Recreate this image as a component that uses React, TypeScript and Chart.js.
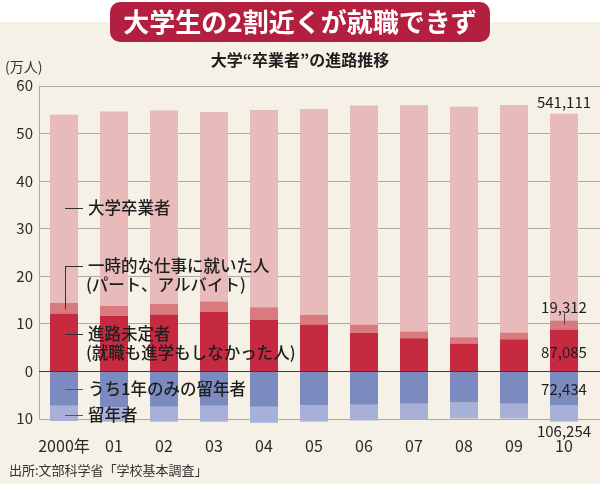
import React, { useEffect, useRef } from 'react';
import { Chart, registerables } from 'chart.js';

Chart.register(...registerables);

// ---- data (unit: 万人) ----
const years = ['2000年', '01', '02', '03', '04', '05', '06', '07', '08', '09', '10'];
const graduates = [53.87, 54.55, 54.77, 54.49, 54.89, 55.1, 55.82, 55.91, 55.57, 55.95, 54.11];
const temporaryJob = [2.2, 2.1, 2.2, 2.2, 2.6, 2.0, 1.8, 1.4, 1.3, 1.4, 1.93];
const undecided = [12.1, 11.6, 11.9, 12.4, 10.8, 9.8, 8.0, 6.9, 5.8, 6.7, 8.71];
const repeatOneYear = [7.3, 7.6, 7.5, 7.3, 7.5, 7.2, 7.1, 6.9, 6.6, 6.9, 7.24];
const repeatTotal = [10.5, 10.7, 10.7, 10.7, 10.9, 10.6, 10.4, 10.2, 10.0, 10.0, 10.63];
const yTicks = [-10, 0, 10, 20, 30, 40, 50, 60];
const valueLabels = ['541,111', '19,312', '87,085', '72,434', '106,254'];

const TITLE = '大学生の2割近くが就職できず';
const SUBTITLE = '大学“卒業者”の進路推移';
const UNIT = '(万人)';
const SOURCE = '出所:文部科学省「学校基本調査」';

const FONT = '"Noto Sans CJK JP", "Noto Sans", sans-serif';

const COLORS = {
  pink: '#e8baba',
  lightRed: '#d97a7e',
  red: '#c52a40',
  darkBlue: '#7c8bbf',
  lightBlue: '#a8b0d8',
  grid: '#aca99f',
  text: '#1e1e1e',
  bg: '#f5f1e6',
  titleBox: '#b3203f',
};

const pinkRest = graduates.map((g, i) => +(g - undecided[i] - temporaryJob[i]).toFixed(3));
const repeatRest = repeatTotal.map((t, i) => -(+(t - repeatOneYear[i]).toFixed(3)));
const repeatOneNeg = repeatOneYear.map((v) => -v);

const decorPlugin = {
  id: 'decor',
  beforeDraw(chart: any) {
    const { ctx, width, height } = chart;
    ctx.save();
    ctx.fillStyle = '#ffffff';
    ctx.fillRect(0, 0, width, height);
    ctx.fillStyle = COLORS.bg;
    ctx.fillRect(0, 22, width, height - 22);
    // title box
    ctx.fillStyle = COLORS.titleBox;
    ctx.beginPath();
    (ctx as any).roundRect(110, 2, 380, 40, 10);
    ctx.fill();
    ctx.fillStyle = '#ffffff';
    ctx.font = `bold 26px ${FONT}`;
    ctx.textAlign = 'center';
    ctx.textBaseline = 'middle';
    ctx.fillText(TITLE, 300, 22);
    // subtitle
    ctx.fillStyle = COLORS.text;
    ctx.font = `bold 16px ${FONT}`;
    ctx.fillText(SUBTITLE, 300, 60);
    // unit
    ctx.font = `14px ${FONT}`;
    ctx.textAlign = 'left';
    ctx.fillStyle = '#333';
    ctx.fillText(UNIT, 5, 67);
    // source
    ctx.font = `13px ${FONT}`;
    ctx.fillText(SOURCE, 9, 470);
    ctx.restore();
  },
  beforeDatasetsDraw(chart: any) {
    const { ctx, chartArea, width } = chart;
    const y = chart.scales.y;
    ctx.save();
    ctx.strokeStyle = COLORS.grid;
    ctx.lineWidth = 1;
    yTicks.forEach((v) => {
      if (v === 0) return;
      const py = Math.round(y.getPixelForValue(v)) + 0.5;
      ctx.beginPath();
      ctx.moveTo(chartArea.left, py);
      ctx.lineTo(width, py);
      ctx.stroke();
    });
    const lx = Math.round(chartArea.left) + 0.5;
    ctx.beginPath();
    ctx.moveTo(lx, y.getPixelForValue(60));
    ctx.lineTo(lx, y.getPixelForValue(-10));
    ctx.stroke();
    ctx.restore();
  },
  afterDatasetsDraw(chart: any) {
    const { ctx, chartArea, width } = chart;
    const y = chart.scales.y;
    const x = chart.scales.x;
    ctx.save();
    // zero line
    const zy = Math.round(y.getPixelForValue(0)) + 0.5;
    ctx.strokeStyle = '#3a3a3a';
    ctx.lineWidth = 1.2;
    ctx.beginPath();
    ctx.moveTo(chartArea.left, zy);
    ctx.lineTo(width, zy);
    ctx.stroke();

    // annotations
    const l0 = chartArea.left + 26;
    const l1 = chartArea.left + 44;
    const tx = chartArea.left + 49;
    const line = (color: string, yv: number) => {
      const py = Math.round(y.getPixelForValue(yv)) + 0.5;
      ctx.strokeStyle = color;
      ctx.lineWidth = 1;
      ctx.beginPath();
      ctx.moveTo(l0, py);
      ctx.lineTo(l1, py);
      ctx.stroke();
    };
    ctx.font = `500 16.5px ${FONT}`;
    ctx.fillStyle = COLORS.text;
    ctx.textAlign = 'left';
    ctx.textBaseline = 'middle';

    line('#333', 34.3);
    ctx.fillText('大学卒業者', tx, y.getPixelForValue(34.3));

    line('#333', 22.1);
    ctx.beginPath();
    ctx.moveTo(l0 + 0.5, y.getPixelForValue(22.1));
    ctx.lineTo(l0 + 0.5, y.getPixelForValue(13.0));
    ctx.stroke();
    ctx.fillText('一時的な仕事に就いた人', tx, y.getPixelForValue(22.1));
    ctx.fillText('(パート、アルバイト)', tx - 2, y.getPixelForValue(18.1));

    line('#333', 7.8);
    ctx.fillText('進路未定者', tx, y.getPixelForValue(7.8));
    ctx.fillText('(就職も進学もしなかった人)', tx - 2, y.getPixelForValue(3.9));

    line('#4a5587', -3.8);
    ctx.fillText('うち1年のみの留年者', tx, y.getPixelForValue(-3.8));
    line('#4a5587', -9.2);
    ctx.fillText('留年者', tx, y.getPixelForValue(-9.2));

    // value labels for last year
    const last = years.length - 1;
    const cx = x.getPixelForValue(last);
    ctx.textAlign = 'center';
    ctx.font = `15px ${FONT}`;
    ctx.fillStyle = COLORS.text;
    const topPink = y.getPixelForValue(graduates[last]);
    ctx.fillText(valueLabels[0], cx, topPink - 11);
    const topTemp = y.getPixelForValue(undecided[last] + temporaryJob[last]);
    ctx.fillText(valueLabels[1], cx, topTemp - 13);
    ctx.strokeStyle = '#444';
    ctx.lineWidth = 1;
    ctx.beginPath();
    ctx.moveTo(Math.round(cx) + 0.5, topTemp - 7);
    ctx.lineTo(Math.round(cx) + 0.5, topTemp + 4);
    ctx.stroke();
    const redMid = (y.getPixelForValue(undecided[last]) + y.getPixelForValue(0)) / 2;
    ctx.fillText(valueLabels[2], cx, redMid + 2);
    const blueMid = (y.getPixelForValue(-repeatOneYear[last]) + y.getPixelForValue(0)) / 2;
    ctx.fillText(valueLabels[3], cx, blueMid + 1);
    ctx.fillText(valueLabels[4], cx, y.getPixelForValue(-repeatTotal[last]) + 10);
    ctx.restore();
  },
};

export default function App() {
  const ref = useRef<HTMLCanvasElement | null>(null);
  useEffect(() => {
    if (!ref.current) return;
    const chart = new Chart(ref.current, {
      type: 'bar',
      data: {
        labels: years,
        datasets: [
          { label: '進路未定者', data: undecided, backgroundColor: COLORS.red },
          { label: '一時的な仕事に就いた人', data: temporaryJob, backgroundColor: COLORS.lightRed },
          { label: '大学卒業者', data: pinkRest, backgroundColor: COLORS.pink },
          { label: 'うち1年のみの留年者', data: repeatOneNeg, backgroundColor: COLORS.darkBlue },
          { label: '留年者', data: repeatRest, backgroundColor: COLORS.lightBlue },
        ].map((d) => ({ ...d, stack: 's', borderWidth: 0, barPercentage: 0.56, categoryPercentage: 1 })),
      },
      options: {
        animation: false,
        responsive: false,
        devicePixelRatio: 1,
        layout: { padding: { top: 85.7, right: 11, left: 0, bottom: 0 } },
        plugins: { legend: { display: false }, tooltip: { enabled: false }, title: { display: false } },
        scales: {
          x: {
            stacked: true,
            grid: { display: false, drawTicks: false },
            border: { display: false },
            ticks: {
              autoSkip: false,
              maxRotation: 0,
              minRotation: 0,
              color: '#2a2a2a',
              font: { family: FONT, size: 16 },
              padding: 13,
            },
            afterFit: (s: any) => {
              s.height = 60.7;
            },
          },
          y: {
            stacked: true,
            min: -11,
            max: 60,
            afterBuildTicks: (s: any) => {
              s.ticks = yTicks.map((v) => ({ value: v }));
            },
            grid: { display: false, drawTicks: false },
            border: { display: false },
            ticks: {
              color: '#2a2a2a',
              font: { family: FONT, size: 15 },
              padding: 6,
              callback: (v: any) => String(Math.abs(Number(v))),
            },
            afterFit: (s: any) => {
              s.width = 39;
            },
          },
        },
      },
      plugins: [decorPlugin],
    });
    return () => chart.destroy();
  }, []);
  return (
    <div style={{ position: 'absolute', left: 0, top: 0, width: 600, height: 484 }}>
      <canvas ref={ref} width={600} height={484} style={{ display: 'block', width: 600, height: 484 }} />
    </div>
  );
}
